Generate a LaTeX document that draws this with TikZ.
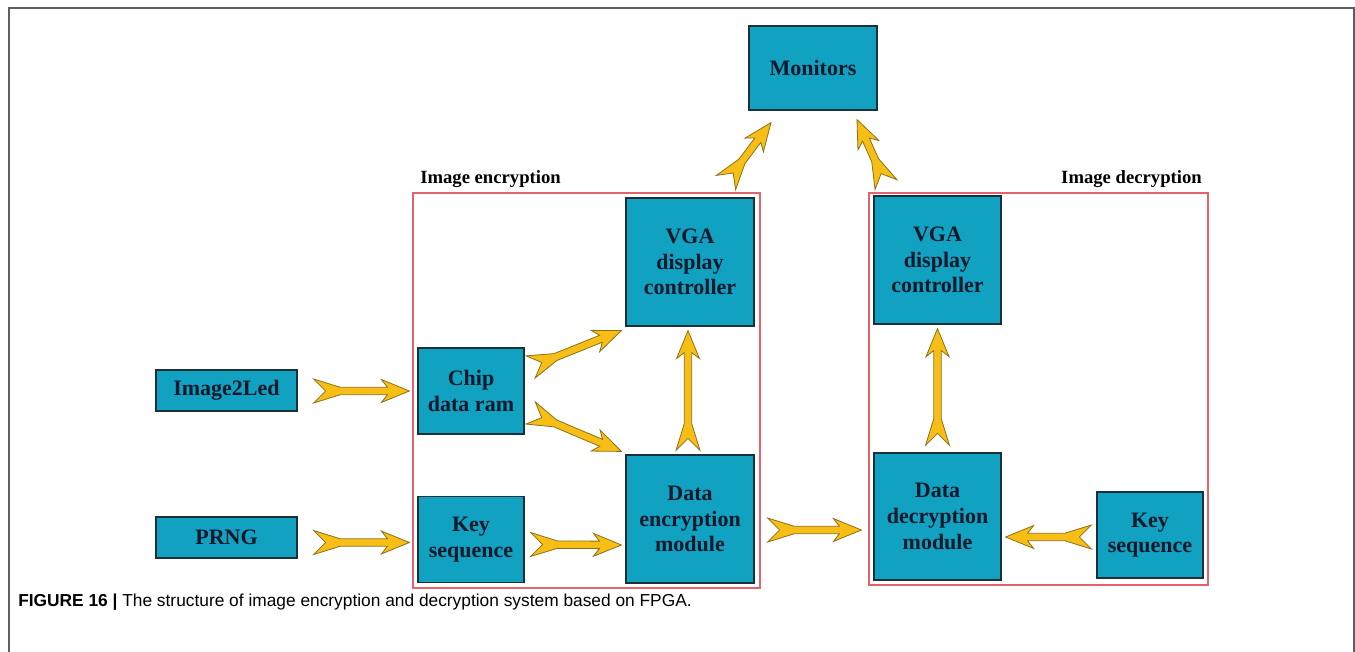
\documentclass[tikz,border=0pt]{standalone}
\usepackage{fontspec}
\setmainfont{Liberation Serif}
\newfontfamily\capfont{Liberation Sans}
\usetikzlibrary{calc}

\definecolor{blkfill}{RGB}{16,162,192}
\definecolor{blkline}{RGB}{28,48,58}
\definecolor{blktext}{RGB}{10,24,44}
\definecolor{arrfill}{RGB}{247,190,22}
\definecolor{arrline}{RGB}{140,112,24}
\definecolor{grpline}{RGB}{228,98,108}
\definecolor{frameline}{RGB}{95,95,95}

%% fat yellow arrow with notched tail, from #1 to #2
\newcommand{\fatarrow}[2]{%
  \filldraw[yarrow] ($(#1)!9pt!(#2)$)
    -- ($(#1)!9pt!90:(#2)$)
    -- ($(#1)!20pt!(#2)!2.8pt!90:(#2)$)
    -- ($(#2)!16.5pt!(#1)!2.8pt!-90:(#1)$)
    -- ($(#2)!21pt!(#1)!8.6pt!-90:(#1)$)
    -- (#2)
    -- ($(#2)!21pt!(#1)!8.6pt!90:(#1)$)
    -- ($(#2)!16.5pt!(#1)!2.8pt!90:(#1)$)
    -- ($(#1)!20pt!(#2)!2.8pt!-90:(#2)$)
    -- ($(#1)!9pt!-90:(#2)$)
    -- cycle;}

\begin{document}
\begin{tikzpicture}[x=0.75pt,y=-0.75pt,
  blk/.style={draw=blkline, fill=blkfill, line width=0.9pt, text=blktext,
    align=center, inner sep=0pt, font=\fontsize{16.5}{19.2}\selectfont\bfseries},
  grp/.style={draw=grpline, line width=1.1pt},
  lbl/.style={inner sep=0pt, font=\fontsize{14}{16}\selectfont\bfseries},
  yarrow/.style={fill=arrfill, draw=arrline, line width=0.6pt, line join=miter}]
  \useasboundingbox (0,0) rectangle (1355,652);

  %% outer frame
  \draw[frameline, line width=1.4pt] (9,652) -- (9,8) -- (1354,8) -- (1354,652);

  %% groups
  \draw[grp] (413,193) rectangle (760,588);
  \draw[grp] (869,193) rectangle (1208,585);
  \node[lbl, anchor=base west] (enctitle) at (420,184) {Image encryption};
  \node[lbl, anchor=base east] (dectitle) at (1202,184) {Image decryption};

  %% blocks
  \node[blk, minimum width=105.75pt, minimum height=30.75pt] (img) at (226.5,390.5) {Image2Led};
  \node[blk, minimum width=105.75pt, minimum height=30.75pt] (prng) at (226.5,537.5) {PRNG};
  \node[blk, minimum width=79.5pt, minimum height=64.5pt] (chip) at (471,391) {Chip\\data ram};
  \node[blk, minimum width=79.5pt, minimum height=64pt] (keyl) at (471,539.5) {Key\\sequence};
  \node[blk, minimum width=96pt, minimum height=96pt] (vgal) at (690,262) {VGA\\display\\controller};
  \node[blk, minimum width=96pt, minimum height=96pt] (enc) at (690,519) {Data\\encryption\\module};
  \node[blk, minimum width=96pt, minimum height=63pt] (mon) at (813,68) {Monitors};
  \node[blk, minimum width=95.25pt, minimum height=96pt] (vgar) at (937.5,260) {VGA\\display\\controller};
  \node[blk, minimum width=95.25pt, minimum height=95.25pt] (dec) at (937.5,516.5) {Data\\decryption\\module};
  \node[blk, minimum width=79.5pt, minimum height=64.5pt] (keyr) at (1150,535) {Key\\sequence};

  %% arrow ends
  \coordinate (a1s) at ($(img.east)+(16,0.5)$);
  \coordinate (a1e) at ($(chip.west)+(-8,0)$);
  \coordinate (a2s) at ($(prng.east)+(16,5)$);
  \coordinate (a2e) at ($(keyl.west)+(-8,3)$);
  \coordinate (a3s) at ($(chip.east)+(6,-24)$);
  \coordinate (a3e) at ($(vgal.south west)+(-4,4)$);
  \coordinate (a4s) at ($(chip.east)+(6,22)$);
  \coordinate (a4e) at ($(enc.north west)+(-4,-3)$);
  \coordinate (a5s) at ($(keyl.east)+(6,5)$);
  \coordinate (a5e) at ($(enc.west)+(-4,26)$);
  \coordinate (a6s) at ($(enc.north)+(-2,-4)$);
  \coordinate (a6e) at ($(vgal.south)+(-2,4)$);
  \coordinate (a7s) at ($(enc.east)+(13,11)$);
  \coordinate (a7e) at ($(dec.west)+(-12,13.5)$);
  \coordinate (a8s) at ($(keyr.west)+(-5,2)$);
  \coordinate (a8e) at ($(dec.east)+(4,20.5)$);
  \coordinate (a9s) at ($(dec.north)+(0,-7)$);
  \coordinate (a9e) at ($(vgar.south)+(0,4)$);
  \coordinate (a10s) at ($(mon.south)+(-87,72)$);
  \coordinate (a10e) at ($(mon.south)+(-42,12)$);
  \coordinate (a11s) at ($(mon.south)+(73,74)$);
  \coordinate (a11e) at ($(mon.south)+(44,9)$);

  %% arrows
  \fatarrow{a1s}{a1e}
  \fatarrow{a2s}{a2e}
  \fatarrow{a3s}{a3e}
  \fatarrow{a4s}{a4e}
  \fatarrow{a5s}{a5e}
  \fatarrow{a6s}{a6e}
  \fatarrow{a7s}{a7e}
  \fatarrow{a8s}{a8e}
  \fatarrow{a9s}{a9e}
  \fatarrow{a10s}{a10e}
  \fatarrow{a11s}{a11e}

  %% caption
  \node[anchor=base west, inner sep=0pt, font=\capfont\fontsize{13}{15}\selectfont] (cap) at (18,606)
    {\textbf{FIGURE 16 |} The structure of image encryption and decryption system based on FPGA.};
\end{tikzpicture}
\end{document}
